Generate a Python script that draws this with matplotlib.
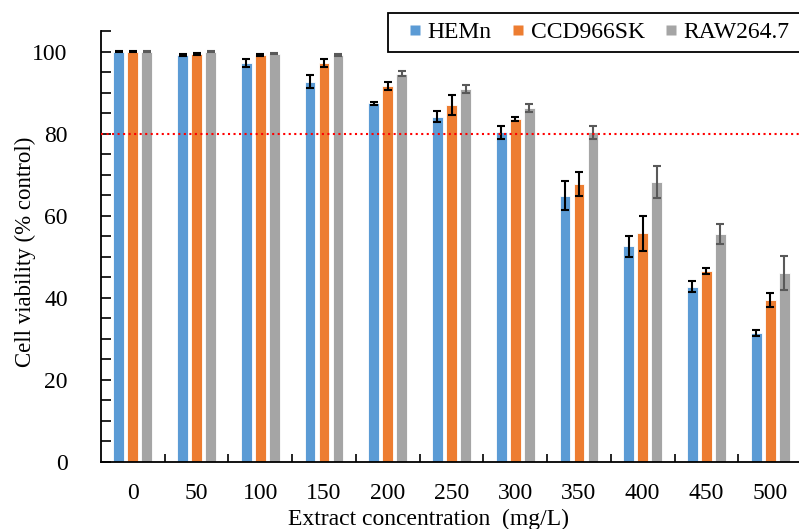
import numpy as np
import matplotlib
matplotlib.use("Agg")
import matplotlib.pyplot as plt
from matplotlib.ticker import MultipleLocator, FixedLocator
from matplotlib.lines import Line2D
from matplotlib.patches import Rectangle

concentrations = ["0", "50", "100", "150", "200", "250", "300", "350", "400", "450", "500"]

hemn = [100.0, 99.2, 97.3, 92.6, 87.4, 84.1, 80.3, 64.9, 52.5, 42.7, 31.4]
hemn_err = [0.15, 0.2, 1.0, 1.6, 0.4, 1.3, 1.6, 3.6, 2.6, 1.4, 0.8]

ccd = [100.0, 99.4, 99.1, 97.3, 91.6, 87.0, 83.5, 67.7, 55.7, 46.6, 39.5]
ccd_err = [0.15, 0.2, 0.2, 1.0, 0.9, 2.5, 0.5, 2.9, 4.3, 0.7, 1.7]

raw = [100.0, 100.0, 99.5, 99.1, 94.6, 90.8, 86.2, 80.3, 68.3, 55.5, 46.0]
raw_err = [0.1, 0.15, 0.2, 0.2, 0.6, 1.0, 0.9, 1.6, 3.9, 2.5, 4.1]

series = [
    ("HEMn", hemn, hemn_err, "#5B9BD5", "black"),
    ("CCD966SK", ccd, ccd_err, "#ED7D31", "black"),
    ("RAW264.7", raw, raw_err, "#A5A5A5", "#595959"),
]

plt.rcParams["font.family"] = ["Liberation Serif", "DejaVu Serif"]

fig = plt.figure(figsize=(7.99, 5.29), dpi=100)
ax = fig.add_axes([101 / 799, 67 / 529, 701 / 799, 431 / 529])

x = np.arange(len(concentrations))
bar_w = 0.17
step = 0.22
for i, (name, vals, errs, color, ecolor) in enumerate(series):
    ax.bar(x + (i - 1) * step, vals, width=bar_w, color=color,
           edgecolor="white", linewidth=0.6, label=name, zorder=2)
    ax.errorbar(x + (i - 1) * step, vals, yerr=errs, fmt="none",
                ecolor=ecolor, elinewidth=1.5, capsize=3, capthick=1.5, zorder=3)

ax.axhline(80, color="red", linestyle=":", linewidth=1.5, zorder=4)

ax.set_xlim(-0.5, len(concentrations) - 0.5)
ax.set_ylim(0, 105)
ax.set_xticks(x)
ax.set_xticklabels(concentrations)
ax.xaxis.set_minor_locator(FixedLocator(np.arange(0.5, len(concentrations) - 0.5, 1)))
ax.tick_params(axis="x", which="major", length=0, pad=15, labelsize=17)
ax.tick_params(axis="x", which="minor", direction="in", length=6, width=1.2)

ax.yaxis.set_major_locator(FixedLocator([0, 20, 40, 60, 80, 100]))
ax.yaxis.set_minor_locator(MultipleLocator(5))
ax.tick_params(axis="y", which="both", direction="in", length=7, width=1.2,
               pad=24, labelsize=17)

for side in ["top", "right"]:
    ax.spines[side].set_visible(False)
for side in ["left", "bottom"]:
    ax.spines[side].set_linewidth(1.3)

fig.text(25 / 799, 1 - 252 / 529, "Cell viability (% control)", rotation=90,
         ha="center", va="center", fontsize=16.5)
fig.text(429 / 799, 1 - 519 / 529, "Extract concentration  (mg/L)",
         ha="center", va="center", fontsize=17)

# legend box (right side runs off the figure, as in the source)
fig.patches.append(Rectangle((388 / 799, 1 - 52 / 529), 0.6, 39 / 529,
                             transform=fig.transFigure, facecolor="white",
                             edgecolor="black", linewidth=1.3, zorder=5))
handles = [Line2D([], [], linestyle="none", marker="s", markersize=7,
                  markerfacecolor=c, markeredgecolor="none")
           for _, _, _, c, _ in series]
leg = fig.legend(handles, [s[0] for s in series], loc="center left",
                 bbox_to_anchor=(410 / 799, 1 - 32 / 529), ncol=3,
                 fontsize=17, frameon=False,
                 handlelength=0.45, handletextpad=0.3,
                 columnspacing=0.9, borderpad=0, borderaxespad=0)
leg.set_zorder(6)

fig.savefig("out.png", dpi=100)
